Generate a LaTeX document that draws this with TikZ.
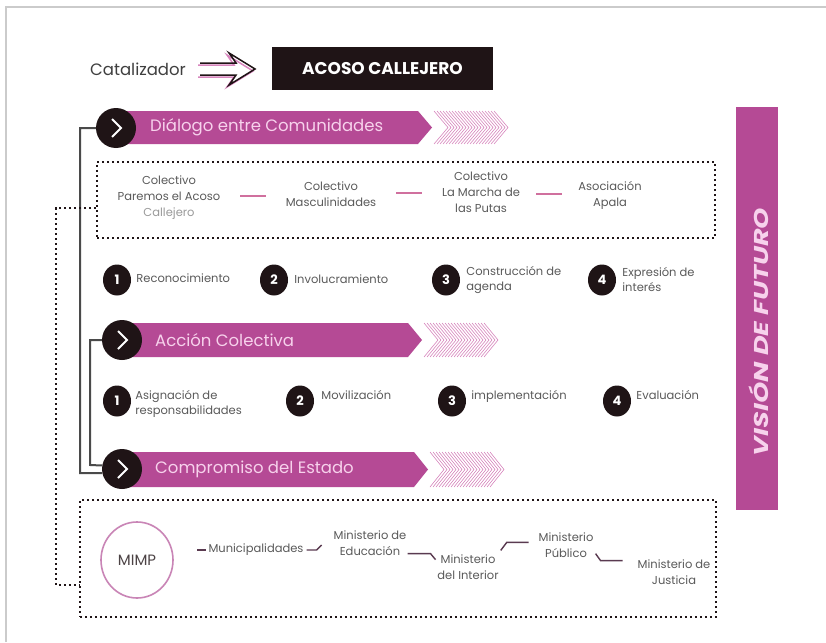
\documentclass[tikz,border=0pt]{standalone}
\usepackage{fontspec}
\setmainfont{Poppins}
\usetikzlibrary{calc,shapes.geometric}
\definecolor{mag}{HTML}{B54A95}
\definecolor{magtxt}{HTML}{F7D2EC}
\definecolor{hatchc}{HTML}{D886BE}
\definecolor{darkc}{HTML}{1F1416}
\definecolor{txtg}{HTML}{5A5A5A}
\definecolor{lgray}{HTML}{9A9A9A}
\definecolor{frameg}{HTML}{CBCBCB}
\definecolor{linkg}{HTML}{4A4A4A}
\definecolor{pinkdash}{HTML}{D0709E}
\definecolor{mimpc}{HTML}{C985B6}
\definecolor{mlinkc}{HTML}{5A3A50}
\newcommand\drawband[4]{%
  \pgfmathsetmacro\bmid{(#2+#3)/2}
  \fill[mag] (#1,#2) -- (#4,#2) -- ({#4+14},\bmid) -- (#4,#3) -- (#1,#3) -- cycle;
  \foreach \k in {0,...,20}{
    \draw[hatchc, line width=0.6pt] ({#4+16+\k*3},#2) -- ({#4+30+\k*3},\bmid) -- ({#4+16+\k*3},#3);
  }
}
\begin{document}
\begin{tikzpicture}[x=1pt,y=-1pt,
  chevc/.style={circle, fill=darkc, minimum size=40pt, inner sep=0pt},
  bandtxt/.style={anchor=west, text=magtxt, font=\fontsize{16.5}{18}\selectfont, inner sep=0pt},
  numc/.style={ellipse, fill=darkc, minimum width=28pt, minimum height=31pt, inner sep=0pt, text=white, font=\fontsize{13}{13}\selectfont\bfseries},
  steplbl/.style={text=txtg, align=left, font=\fontsize{11.5}{15}\selectfont, inner sep=0pt},
  org/.style={text=txtg, align=center, font=\fontsize{11.5}{16}\selectfont, inner sep=0pt},
  dotbox/.style={draw=darkc, line width=1.8pt, dash pattern=on 1.8pt off 3.2pt, inner sep=0pt},
  dotline/.style={draw=darkc, line width=1.8pt, dash pattern=on 1.8pt off 3.2pt},
  bracket/.style={draw=linkg, line width=2pt},
  pdash/.style={draw=pinkdash, line width=2pt},
  mlink/.style={draw=mlinkc, line width=1.4pt}
]
\useasboundingbox (0,0) rectangle (826,642);
\fill[white] (0,0) rectangle (826,642);
\draw[frameg, line width=1.5pt] (6,642) -- (6,7) -- (826,7);

% header
\node[text=txtg!70!black, font=\fontsize{16.5}{18}\selectfont, inner sep=0pt] (cat) at (138,69) {Catalizador};
\node[fill=darkc, text=white, font=\fontsize{17}{18}\selectfont\bfseries, minimum width=221pt, minimum height=43pt, inner sep=0pt] (acoso) at (382.5,68.5) {ACOSO CALLEJERO};
\coordinate (as) at ($(cat.east)+(14,0)$);
\draw[hatchc, line width=1.5pt, line join=miter] ($(as)+(-2,-4)$) -- ++(36,0) -- ++(-7,-10) -- ++(26,16) -- ++(-26,16) -- ++(7,-10) -- ++(-36,0);
\draw[darkc, line width=1.5pt, line join=miter] ($(as)+(0,-6)$) -- ++(36,0) -- ++(-7,-10) -- ++(26,16) -- ++(-26,16) -- ++(7,-10) -- ++(-36,0);

% right vertical band
\fill[mag] (736,107) rectangle (778,510);
\node[rotate=90, text=magtxt, xscale=1.35, font=\fontsize{20}{20}\selectfont\bfseries\itshape] (vis) at (759,332) {VISIÓN DE FUTURO};

% bands
\drawband{120}{111}{144}{418}
\drawband{124}{323}{357}{408}
\drawband{124}{452}{487}{414}
\node[chevc] (c1) at (116,128) {};
\node[chevc] (c2) at (122,340) {};
\node[chevc] (c3) at (122,469) {};
\foreach \c in {c1,c2,c3}{
  \draw[white, line width=1.8pt, line join=miter] ($(\c)+(-4,-9)$) -- ($(\c)+(5,0)$) -- ($(\c)+(-4,9)$);
}
\node[bandtxt] (t1) at (150,127) {Diálogo entre Comunidades};
\node[bandtxt] (t2) at (155,340) {Acción Colectiva};
\node[bandtxt] (t3) at (155,469) {Compromiso del Estado};

% left bracket connectors
\draw[bracket] (c1.west) -- (80,128) -- (80,473) -- (c3.192);
\draw[bracket] (c2.west) -- (90,340) -- (90,465) -- (c3.170);

% box 1
\node[dotbox, minimum width=618pt, minimum height=76pt] (box1) at (406,200) {};
\node[org] (o1) at (169,198) {Colectivo\\Paremos el Acoso\\{\color{lgray}Callejero}};
\node[org] (o2) at (331,194) {Colectivo\\Masculinidades};
\node[org] (o3) at (481,192) {Colectivo\\La Marcha de\\las Putas};
\node[org] (o4) at (610,195) {Asociación\\Apala};
\foreach \a/\b in {o1/o2,o2/o3,o3/o4}{
  \draw[pdash] ($($(\a.east)!0.5!(\b.west)$)+(-13,0)$) -- ($($(\a.east)!0.5!(\b.west)$)+(13,0)$);
}

% steps row 1
\node[numc] (a1) at (117,280) {1};
\node[numc] (a2) at (274,280) {2};
\node[numc] (a3) at (446,280) {3};
\node[numc] (a4) at (602,280) {4};
\node[steplbl, anchor=west] (la1) at ($(a1.east)+(5,-2)$) {Reconocimiento};
\node[steplbl, anchor=west] (la2) at ($(a2.east)+(6,-1)$) {Involucramiento};
\node[steplbl, anchor=west] (la3) at ($(a3.east)+(6,0)$) {Construcción de\\agenda};
\node[steplbl, anchor=west] (la4) at ($(a4.east)+(6,0)$) {Expresión de\\interés};

% steps row 2
\node[numc] (b1) at (117,401) {1};
\node[numc] (b2) at (300,401) {2};
\node[numc] (b3) at (452,401) {3};
\node[numc] (b4) at (617,401) {4};
\node[steplbl, anchor=north west] (lb1) at ($(b1.east)+(4,-11)$) {Asignación de\\responsabilidades};
\node[steplbl, anchor=north west] (lb2) at ($(b2.east)+(7,-11)$) {Movilización};
\node[steplbl, anchor=north west] (lb3) at ($(b3.east)+(5,-11)$) {implementación};
\node[steplbl, anchor=north west] (lb4) at ($(b4.east)+(5,-11)$) {Evaluación};

% box 2
\node[dotbox, minimum width=636pt, minimum height=117pt] (box2) at (398,558.5) {};
\node[ellipse, draw=mimpc, line width=1.6pt, minimum width=72pt, minimum height=76pt, text=darkc!80, font=\fontsize{15}{15}\selectfont] (mimp) at (137,560) {MIMP};
\node[org] (m1) at (256,550) {Municipalidades};
\node[org] (m2) at (370,543) {Ministerio de\\Educación};
\node[org] (m3) at (468,567) {Ministerio\\del Interior};
\node[org] (m4) at (566,545) {Ministerio\\Público};
\node[org] (m5) at (674,572) {Ministerio de\\Justicia};
\draw[mlink] ($(m1.west)+(-11,0)$) -- ($(m1.west)+(-2,0)$);
\draw[mlink] ($(m1.east)+(3,0)$) -- ++(10,0) -- ++(5,-5);
\draw[mlink] ($(m2.south east)+(1,-2)$) -- ++(23,0) -- ++(5,6);
\draw[mlink] ($(m3.north east)+(2,-4)$) -- ++(6,-8) -- ++(22,0);
\draw[mlink] ($(m4.south east)+(2,-4)$) -- ++(5,7) -- ++(22,0);

% dotted connector
\draw[dotline] ($(box1.west)+(0,8)$) -- (56,208) -- (56,585) -- ($(box2.west)+(0,26.5)$);
\end{tikzpicture}
\end{document}
